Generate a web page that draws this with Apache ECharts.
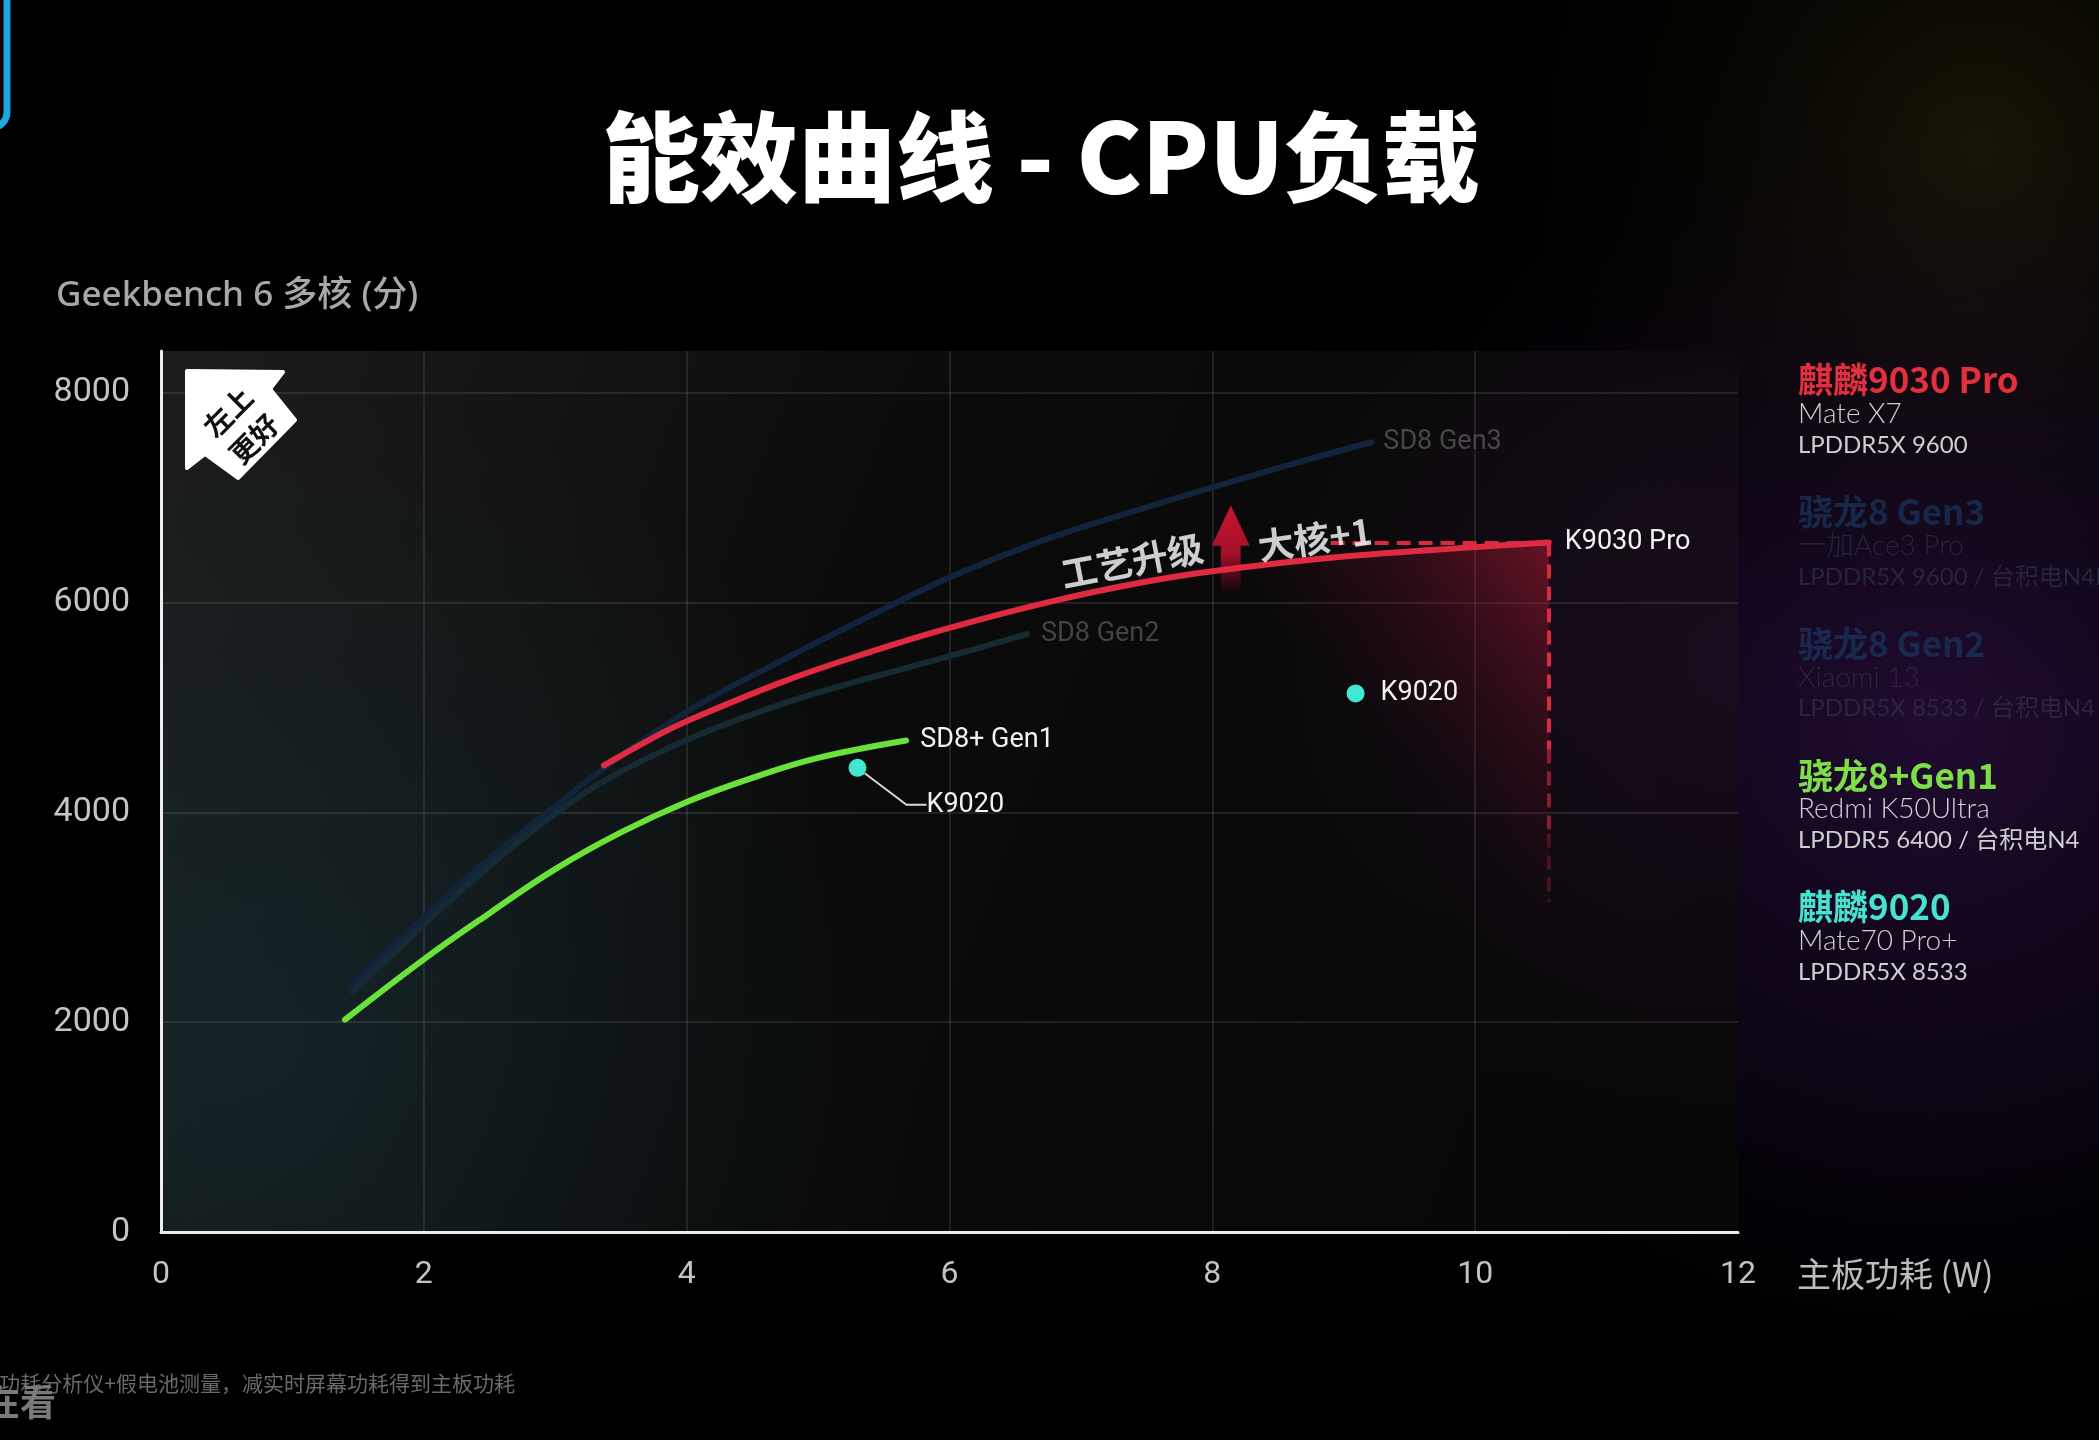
<!DOCTYPE html>
<html>
<head>
<meta charset="utf-8">
<title>能效曲线 - CPU负载</title>
<script src="https://cdn.jsdelivr.net/npm/echarts@6/dist/echarts.min.js"></script>
<style>
  html, body { margin: 0; padding: 0; background: #000; }
  #chart { width: 2099px; height: 1440px; }
</style>
</head>
<body>
<div id="chart"></div>
<script>
// x: 主板功耗 (W)   y: Geekbench 6 多核 (分)
const xTicks = [0, 2, 4, 6, 8, 10, 12];
const yTicks = [0, 2000, 4000, 6000, 8000];
const yTop = 8400; // plot area continues a bit above the last tick

// curves, [W, score]
const sd8Gen3 = [[1.43, 2330], [2.0, 3000], [2.5, 3560], [3.0, 4060], [3.37, 4420], [4.0, 4960],
  [4.74, 5460], [5.42, 5890], [6.0, 6240], [6.77, 6620], [7.45, 6890], [8.0, 7100], [8.6, 7320], [9.21, 7530]];
const sd8Gen2 = [[1.46, 2290], [2.0, 2930], [2.5, 3490], [3.0, 3990], [3.4, 4320], [4.0, 4690],
  [4.6, 4980], [5.1, 5180], [6.0, 5490], [6.59, 5700]];
const sd8pGen1 = [[1.40, 2025], [2.0, 2600], [2.5, 3040], [3.0, 3460], [3.5, 3810], [4.0, 4100],
  [4.5, 4330], [5.0, 4520], [5.67, 4686]];
const k9030Pro = [[3.37, 4450], [3.8, 4750], [4.0, 4870], [4.74, 5250], [5.42, 5540], [6.0, 5760],
  [6.77, 6010], [7.45, 6190], [8.0, 6300], [9.0, 6440], [10.0, 6530], [10.56, 6575]];
const k9020 = [[5.30, 4426], [9.09, 5135]];

// annotations (data coordinates)
const notes = ['工艺升级', '大核+1'];
const notePos = [[7.39, 6400], [8.78, 6610]];
const noteTilt = [11, 8];
const arrowAt = [8.14, 6510];
const dashFromX = 8.9;
const dashToY = 3150;

// right-hand legend text
const legendTitles = ['麒麟9030 Pro', '骁龙8 Gen3', '骁龙8 Gen2', '骁龙8+Gen1', '麒麟9020'];
const legendPhones = ['Mate X7', '一加Ace3 Pro', 'Xiaomi 13', 'Redmi K50Ultra', 'Mate70 Pro+'];
const legendSpecs = ['LPDDR5X 9600', 'LPDDR5X 9600 / 台积电N4P', 'LPDDR5X 8533 / 台积电N4',
  'LPDDR5 6400 / 台积电N4', 'LPDDR5X 8533'];

const legendTitleColors = ['#e3303f', '#172749', '#1a284f', '#7ddf45', '#47e3cf'];
const legendSubColors = ['#cfcfcf', '#26253a', '#2b2541', '#cfcfcf', '#cfcfcf'];

const NUM = 'Roboto, "Noto Sans CJK SC", sans-serif';
const CJK = '"Noto Sans CJK SC", "Noto Sans", sans-serif';
const G = echarts.graphic;

const chart = echarts.init(document.getElementById('chart'));
const redEnd = k9030Pro[k9030Pro.length - 1];

function curve(name, data, color, label, labelColor, z, dist) {
  return {
    name: name,
    type: 'line',
    data: data,
    smooth: 0.4,
    symbol: 'none',
    silent: true,
    z: z,
    lineStyle: { color: color, width: 6, cap: 'round' },
    endLabel: {
      show: true,
      formatter: label,
      color: labelColor,
      fontSize: 27,
      fontFamily: NUM,
      distance: dist
    }
  };
}

function midText(x, y, text, fill, font, align) {
  return {
    type: 'text', z: 10, silent: true,
    style: { x: x, y: y, text: text, fill: fill, font: font,
      textAlign: align || 'left', align: align || 'left',
      textVerticalAlign: 'middle', verticalAlign: 'middle' }
  };
}

// legend block
const legendEls = [];
legendTitles.forEach(function (t, i) {
  const y0 = 380 + i * 131.8;
  legendEls.push(midText(1798, y0, t, legendTitleColors[i], 'bold 35px ' + CJK));
  legendEls.push(midText(1798, y0 + 34, legendPhones[i], legendSubColors[i],
    '300 28px Lato, "Noto Sans CJK SC", sans-serif'));
  legendEls.push(midText(1798, y0 + 65, legendSpecs[i], legendSubColors[i],
    '400 24px Lato, "Noto Sans CJK SC", sans-serif'));
});

const plotRect = { x: 161, y: 351, width: 1577, height: 881 };

const option = {
  animation: false,
  backgroundColor: '#000',
  grid: {
    left: 161, right: 361, top: 351, bottom: 208,
    containLabel: false, outerBoundsMode: 'none'
  },
  xAxis: {
    type: 'value',
    min: xTicks[0],
    max: xTicks[xTicks.length - 1],
    interval: xTicks[1] - xTicks[0],
    axisLine: { lineStyle: { color: '#ececec', width: 3 } },
    axisTick: { show: false },
    axisLabel: { color: '#c4c4c4', fontSize: 32, fontFamily: NUM, margin: 27,
      formatter: function (v) { return String(v); } },
    splitLine: { show: true, showMinLine: false, showMaxLine: false,
      lineStyle: { color: 'rgba(255,255,255,0.13)', width: 1.5 } }
  },
  yAxis: {
    type: 'value',
    min: yTicks[0],
    max: yTop,
    interval: yTicks[1] - yTicks[0],
    axisLine: { show: true, lineStyle: { color: '#ececec', width: 3 } },
    axisTick: { show: false },
    axisLabel: { color: '#c4c4c4', fontSize: 34, fontFamily: NUM, margin: 31, showMaxLabel: false,
      formatter: function (v) { return String(v); } },
    splitLine: { show: true, showMinLine: false, showMaxLine: false,
      lineStyle: { color: 'rgba(255,255,255,0.13)', width: 1.5 } }
  },
  graphic: [
    // page glows
    { type: 'circle', z: -30, silent: true, shape: { cx: 1930, cy: 720, r: 700 },
      style: { fill: new G.RadialGradient(0.5, 0.5, 0.5, [
        { offset: 0, color: 'rgba(60,22,90,0.55)' },
        { offset: 0.6, color: 'rgba(40,14,62,0.25)' },
        { offset: 1, color: 'rgba(0,0,0,0)' }]) } },
    { type: 'circle', z: -30, silent: true, shape: { cx: 1980, cy: 140, r: 560 },
      style: { fill: new G.RadialGradient(0.5, 0.5, 0.5, [
        { offset: 0, color: 'rgba(52,46,12,0.45)' },
        { offset: 1, color: 'rgba(0,0,0,0)' }]) } },
    // plot background
    { type: 'rect', z: -10, silent: true, shape: plotRect,
      style: { fill: new G.LinearGradient(0, 0, 1, 0.7, [
        { offset: 0, color: '#1c1c1c' },
        { offset: 0.45, color: '#0b0b0b' },
        { offset: 1, color: '#070707' }]) } },
    { type: 'rect', z: -9, silent: true, shape: plotRect,
      style: { fill: new G.RadialGradient(0.06, 0.78, 0.75, [
        { offset: 0, color: 'rgba(22,60,70,0.38)' },
        { offset: 1, color: 'rgba(22,60,70,0)' }]) } },
    { type: 'rect', z: -9, silent: true, shape: plotRect,
      style: { fill: new G.RadialGradient(1.0, 0.35, 0.55, [
        { offset: 0, color: 'rgba(60,20,70,0.35)' },
        { offset: 1, color: 'rgba(60,20,70,0)' }]) } },
    // cyan corner piece
    { type: 'rect', z: 5, silent: true, shape: { x: -40, y: -40, width: 47, height: 168, r: 16 },
      style: { fill: 'none', stroke: '#1ea6e4', lineWidth: 7 } },
    // title and axis captions
    midText(1041, 157, '能效曲线 - CPU负载', '#ffffff', '900 98px ' + CJK, 'center'),
    midText(56, 296, 'Geekbench 6 多核 (分)', '#a8a8a8', '500 35px "Noto Sans", "Noto Sans CJK SC", sans-serif'),
    midText(1797, 1274, '主板功耗 (W)', '#bdbdbd', '34px ' + CJK),
    // "左上更好" badge
    { type: 'polygon', z: 10, silent: true,
      shape: { points: [[187, 371], [283, 372], [270, 389], [295, 420], [238, 478], [205, 454], [187, 468]] },
      style: { fill: '#ffffff', stroke: '#ffffff', lineWidth: 4, lineJoin: 'round' } },
    { type: 'text', z: 11, silent: true, x: 228, y: 412, rotation: Math.PI / 4,
      style: { x: 0, y: 0, text: '左上', fill: '#111', font: 'bold 28px ' + CJK,
        textAlign: 'center', align: 'center', textVerticalAlign: 'middle', verticalAlign: 'middle' } },
    { type: 'text', z: 11, silent: true, x: 254, y: 439, rotation: Math.PI / 4,
      style: { x: 0, y: 0, text: '更好', fill: '#111', font: 'bold 28px ' + CJK,
        textAlign: 'center', align: 'center', textVerticalAlign: 'middle', verticalAlign: 'middle' } },
    // footnotes
    midText(515, 1383, '功耗分析仪+假电池测量，减实时屏幕功耗得到主板功耗', '#6a6a6a', '21px ' + CJK, 'right'),
    midText(56, 1402, '在看', '#7a7a7a', 'bold 36px ' + CJK, 'right')
  ].concat(legendEls),
  series: [
    // red glow under the end of the K9030 Pro curve
    {
      type: 'line',
      data: k9030Pro.filter(function (p) { return p[0] >= 8; }),
      smooth: 0.4,
      symbol: 'none',
      silent: true,
      z: 1,
      lineStyle: { width: 0, opacity: 0 },
      areaStyle: {
        color: new G.LinearGradient(1, 0, 0, 0.42, [
          { offset: 0, color: 'rgba(220,30,55,0.6)' },
          { offset: 0.28, color: 'rgba(175,20,45,0.27)' },
          { offset: 0.58, color: 'rgba(120,10,30,0)' }])
      }
    },
    curve('SD8 Gen3', sd8Gen3, '#11243b', 'SD8 Gen3', '#474747', 2, 12),
    curve('SD8 Gen2', sd8Gen2, '#162a34', 'SD8 Gen2', '#434343', 2, 14),
    curve('SD8+ Gen1', sd8pGen1, '#6be23a', 'SD8+ Gen1', '#f2f2f2', 4, 14),
    // upward arrow
    {
      type: 'scatter',
      data: [arrowAt],
      symbol: 'path://M50,0 L100,46 L76,46 L76,100 L24,100 L24,46 L0,46 Z',
      symbolSize: [38, 88],
      silent: true,
      z: 3,
      itemStyle: {
        opacity: 1,
        color: new G.LinearGradient(0, 0, 0, 1, [
          { offset: 0, color: '#c8142e' },
          { offset: 0.55, color: '#a3102a' },
          { offset: 1, color: 'rgba(150,10,35,0)' }])
      }
    },
    Object.assign(curve('K9030 Pro', k9030Pro, '#e02a42', 'K9030 Pro', '#f2f2f2', 5, 16), {
      markLine: {
        silent: true,
        symbol: 'none',
        label: { show: false },
        emphasis: { disabled: true },
        lineStyle: { color: '#d92a40', width: 4, type: [14, 8] },
        data: [
          [{ coord: [dashFromX, redEnd[1]] }, { coord: redEnd }],
          [{ coord: redEnd }, { coord: [redEnd[0], 4600] }],
          [{ coord: [redEnd[0], 4600], lineStyle: { opacity: 0.6 } }, { coord: [redEnd[0], 3800] }],
          [{ coord: [redEnd[0], 3800], lineStyle: { opacity: 0.28 } }, { coord: [redEnd[0], dashToY] }]
        ]
      }
    }),
    // rotated notes
    {
      type: 'scatter',
      symbolSize: 0,
      silent: true,
      z: 6,
      data: notes.map(function (t, i) {
        return { name: t, value: notePos[i], label: { rotate: noteTilt[i] } };
      }),
      label: {
        show: true, position: 'inside', formatter: '{b}', color: '#ffffff',
        fontSize: 36, fontWeight: 'bold', fontFamily: CJK
      }
    },
    // 麒麟9020 points; the first one gets a leader line
    {
      type: 'scatter',
      data: k9020.map(function (p, i) {
        return { value: p, labelLine: { show: i === 0 } };
      }),
      symbolSize: 18,
      silent: true,
      z: 6,
      itemStyle: { color: '#40e8d0', opacity: 1 },
      label: {
        show: true, position: 'right', distance: 8, padding: [0, 0, 0, 8],
        formatter: 'K9020', color: '#f2f2f2', fontSize: 27, fontFamily: NUM
      },
      labelLine: { show: true, length2: 20, lineStyle: { color: '#d8d8d8', width: 2 } },
      labelLayout: function (p) {
        return p.dataIndex === 0 ? { dx: 44, dy: 37 } : {};
      }
    }
  ]
};

chart.setOption(option);
</script>
</body>
</html>
